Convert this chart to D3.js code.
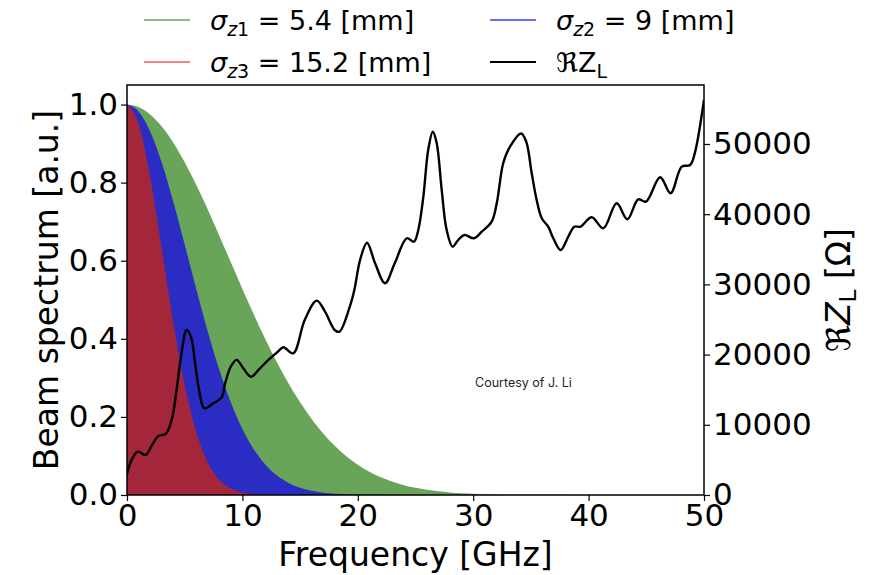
<!DOCTYPE html>
<html><head><meta charset="utf-8">
<script src="https://cdn.jsdelivr.net/npm/d3@7"></script>
<style>body{margin:0;background:#fff}svg text{font-family:"DejaVu Sans",sans-serif;fill:#000}</style>
</head><body>
<svg id="chart" width="872" height="575"></svg>
<script>
// ---- data ----
const specFreq = [0,1,2,3,4,5,6,7,8,9,10,11,12,13,14,15,16,17,18,19,20,21,22,23,24,25,26,27,28,29,30,32,35,40,45,50];
const specSigma1 = [1,0.9936,0.9747,0.9441,0.9028,0.8523,0.7944,0.7310,0.6642,0.5958,0.5276,0.4613,0.3982,0.3394,0.2856,0.2373,0.1946,0.1576,0.1260,0.0994,0.0775,0.0596,0.0453,0.0340,0.0252,0.0184,0.0133,0.0095,0.0067,0.0046,0.0032,0.0014,0.0004,0,0,0];
const specSigma2 = [1,0.9824,0.9314,0.8522,0.7526,0.6414,0.5275,0.4188,0.3208,0.2372,0.1692,0.1166,0.0774,0.0497,0.0308,0.0184,0.0106,0.0059,0.0032,0.0016,0.0008,0.0004,0.0002,0.0001,0,0,0,0,0,0,0,0,0,0,0,0];
const specSigma3 = [1,0.9506,0.8165,0.6338,0.4445,0.2817,0.1613,0.0835,0.0390,0.0165,0.0063,0.0022,0.0007,0.0002,0,0,0,0,0,0,0,0,0,0,0,0,0,0,0,0,0,0,0,0,0,0];

const zFreq = [0,0.4,0.93,1.62,2.2,2.71,3.35,3.87,4.3,4.68,5.17,5.55,5.9,6.24,6.7,7.48,8.2,8.5,9.0,9.5,10.1,10.75,11.5,12.25,13.0,13.55,14.4,15.4,16.44,17.16,18.0,18.4,19.3,19.7,20.2,20.8,21.5,22.36,23.2,24.24,24.87,25.24,25.68,26.1,26.5,26.84,27.27,27.7,28.22,28.7,29.23,30.07,30.74,31.6,32.04,32.6,33.19,34.15,34.6,35.07,35.5,35.94,36.5,36.94,37.58,38.24,38.76,39.3,40.27,41.27,42.43,43.36,44.3,44.97,46.2,47.1,48.07,48.8,49.2,50.0];
const zReal = [3000,5000,6170,5700,7200,8400,8700,10700,15000,19700,23500,22500,18800,15000,12350,13060,13900,15900,18300,19250,18000,16850,18000,19230,20300,21040,20180,24930,27680,26110,23500,23260,26800,29200,33500,35940,33000,30160,33000,36570,36080,37750,42500,49150,51750,50100,43450,37750,35370,36320,37040,36570,37510,38930,41550,47250,49620,51500,50300,45830,42020,39420,38220,36570,34900,36800,38220,38220,39560,37990,41550,39270,42100,41780,45260,42980,46770,47010,48670,56300];

const xTicks = [0,10,20,30,40,50];
const yLeftTicks = [0,0.2,0.4,0.6,0.8,1.0];
const yRightTicks = [0,10000,20000,30000,40000,50000];

const fillColors = {s1:"#69a559", s2:"#2a2cc4", s3:"#a3263b"};
const legendColors = {s1:"#5fb04f", s2:"#3a3aff", s3:"#f25a5a", z:"#000"};

// ---- layout ----
const svg = d3.select("#chart");
const L = 127, R = 704, T = 85, B = 495;
const x = d3.scaleLinear().domain([0,50]).range([L,R]);
const yL = d3.scaleLinear().domain([0,1.05]).range([B,T]);
const yR = d3.scaleLinear().domain([0,58400]).range([B,T]);

svg.append("defs").append("clipPath").attr("id","clip")
  .append("rect").attr("x",L).attr("y",T).attr("width",R-L).attr("height",B-T);

const plot = svg.append("g").attr("clip-path","url(#clip)");
const mkArea = vals => d3.area().x((d,i)=>x(specFreq[i])).y0(B).y1((d)=>yL(d)).curve(d3.curveMonotoneX)(vals);
plot.append("path").attr("d", mkArea(specSigma1)).attr("fill", fillColors.s1);
plot.append("path").attr("d", mkArea(specSigma2)).attr("fill", fillColors.s2);
plot.append("path").attr("d", mkArea(specSigma3)).attr("fill", fillColors.s3);

const zLine = d3.line().x((d,i)=>x(zFreq[i])).y(d=>yR(d)).curve(d3.curveCatmullRom.alpha(0.5));
plot.append("path").attr("d", zLine(zReal)).attr("fill","none").attr("stroke","#000").attr("stroke-width",2.4).attr("stroke-linejoin","round");

// frame
svg.append("rect").attr("x",L).attr("y",T).attr("width",R-L).attr("height",B-T)
  .attr("fill","none").attr("stroke","#000").attr("stroke-width",1.5);

// axes
function styleAxis(g){
  g.select(".domain").remove();
  g.selectAll(".tick line").attr("stroke","#000").attr("stroke-width",1.2);
  g.selectAll(".tick text").style("font-size","31px").attr("fill","#000");
}
svg.append("g").attr("transform",`translate(0,${B})`)
  .call(d3.axisBottom(x).tickValues(xTicks).tickFormat(d3.format("d")).tickSize(6).tickPadding(3))
  .call(styleAxis);
svg.append("g").attr("transform",`translate(${L},0)`)
  .call(d3.axisLeft(yL).tickValues(yLeftTicks).tickFormat(d3.format(".1f")).tickSize(6).tickPadding(3))
  .call(styleAxis);
svg.append("g").attr("transform",`translate(${R},0)`)
  .call(d3.axisRight(yR).tickValues(yRightTicks).tickFormat(d3.format("d")).tickSize(6).tickPadding(3))
  .call(styleAxis);

// axis labels
svg.append("text").attr("x",(L+R)/2).attr("y",566).attr("text-anchor","middle")
  .style("font-size","33px").text("Frequency [GHz]");
svg.append("text").attr("transform",`translate(58,${(T+B)/2}) rotate(-90)`).attr("text-anchor","middle")
  .style("font-size","33px").text("Beam spectrum [a.u.]");
const rl = svg.append("text").attr("transform",`translate(850,${(T+B)/2}) rotate(-90)`).attr("text-anchor","middle")
  .style("font-size","33px");
rl.append("tspan").text("ℜ");
rl.append("tspan").style("font-style","italic").text("Z");
rl.append("tspan").attr("dy",6).style("font-size","23px").text("L");
rl.append("tspan").attr("dy",-6).text(" [Ω]");

// annotation
svg.append("text").attr("x",475).attr("y",387).style("font-family","Inter, 'Liberation Sans', sans-serif")
  .style("font-size","12.5px").style("fill","#1e2433").text("Courtesy of J. Li");

// legend
const legend = [
  {col:0,row:0,color:legendColors.s1,w:1.5,sym:"σ",sub:"z1",rest:" = 5.4 [mm]"},
  {col:1,row:0,color:legendColors.s2,w:1.5,sym:"σ",sub:"z2",rest:" = 9 [mm]"},
  {col:0,row:1,color:legendColors.s3,w:1.5,sym:"σ",sub:"z3",rest:" = 15.2 [mm]"},
  {col:1,row:1,color:legendColors.z,w:2.2,sym:"Z",sub:"L",rest:""}
];
const colX = [144, 490], rowY = [20, 62];
legend.forEach(d=>{
  const lx = colX[d.col], ly = rowY[d.row];
  svg.append("line").attr("x1",lx).attr("x2",lx+46).attr("y1",ly).attr("y2",ly)
    .attr("stroke",d.color).attr("stroke-width",d.w);
  const t = svg.append("text").attr("x",lx+66).attr("y",ly+10).style("font-size","27px");
  if(d.sym==="σ"){
    t.append("tspan").style("font-style","italic").text("σ");
    t.append("tspan").attr("dy",6).style("font-size","19px").style("font-style","italic").text(d.sub[0]);
    t.append("tspan").style("font-size","19px").text(d.sub.slice(1));
    t.append("tspan").attr("dy",-6).text(d.rest);
  } else {
    t.append("tspan").text("ℜ");
    t.append("tspan").text("Z");
    t.append("tspan").attr("dy",6).style("font-size","19px").text(d.sub);
  }
});
</script>
</body></html>
